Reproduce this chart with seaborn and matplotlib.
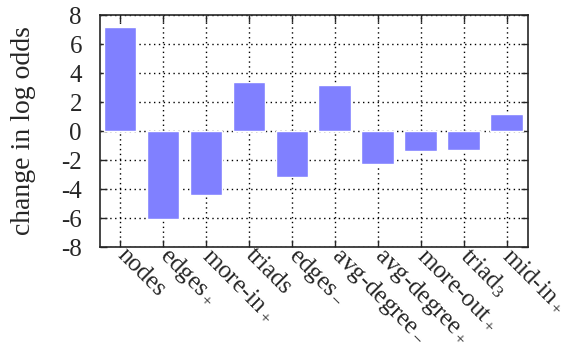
import matplotlib
matplotlib.use("Agg")
import matplotlib.pyplot as plt
import matplotlib.transforms as mtransforms
import pandas as pd
import seaborn as sns

terms = ["nodes", "edges+", "more-in+", "triads", "edges-", "avg-degree-",
         "avg-degree+", "more-out+", "triad3", "mid-in+"]
tick_labels = ["nodes", r"edges$_+$", r"more-in$_+$", "triads", r"edges$_-$",
               r"avg-degree$_-$", r"avg-degree$_+$", r"more-out$_+$",
               r"triad$_3$", r"mid-in$_+$"]
log_odds = [7.2, -6.1, -4.4, 3.4, -3.2, 3.2, -2.3, -1.4, -1.3, 1.2]

sns.set_style("ticks")
plt.rcParams["font.family"] = ["Liberation Serif", "DejaVu Serif"]
plt.rcParams["mathtext.fontset"] = "custom"
plt.rcParams["mathtext.rm"] = "Liberation Serif"
plt.rcParams["mathtext.it"] = "Liberation Serif"
plt.rcParams["axes.unicode_minus"] = False

df = pd.DataFrame({"term": terms, "value": log_odds})

fig = plt.figure(figsize=(5.7, 3.58), dpi=100)
ax = fig.add_axes([0.1754, 0.31, 0.7509, 0.648])
sns.barplot(data=df, x="term", y="value", color="#8080ff", saturation=1,
            width=0.76, ax=ax, zorder=3)

ax.set_xlim(-0.47, 9.5)
ax.set_ylim(-8, 8)
ax.set_yticks(range(-8, 9, 2))
ax.set_xticks(range(len(terms)))
ax.set_xticklabels(tick_labels, rotation=-45, ha="left", va="center",
                   rotation_mode="anchor", fontsize=18)
shift = mtransforms.ScaledTranslation(-0.13, -0.27, fig.dpi_scale_trans)
for lbl in ax.get_xticklabels():
    lbl.set_transform(lbl.get_transform() + shift)
ax.tick_params(axis="y", labelsize=18, pad=13)
ax.tick_params(direction="in", top=True, right=True, length=5, width=1)
ax.set_axisbelow(True)
ax.xaxis.grid(True, linestyle=(0, (1, 2.5)), color="black", linewidth=1)
ax.yaxis.grid(True, linestyle=(0, (1, 2.5)), color="black", linewidth=1)
ax.set_xlabel("")
ax.set_ylabel("change in log odds", fontsize=20, labelpad=18)
for s in ax.spines.values():
    s.set_linewidth(1.2)
    s.set_visible(True)

fig.savefig("out.png", dpi=100)
